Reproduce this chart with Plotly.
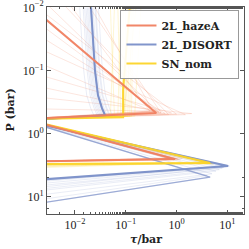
import plotly.graph_objects as go

# ---------------- data ----------------
# mean profiles: pressure (bar) and tau/bar
hazeA_P   = [0.01, 0.47, 0.585, 2.52, 2.75, 20.0]
hazeA_tau = [0.0014, 0.40, 0.001, 0.94, 0.001, 0.001]

disort_P   = [0.01, 0.0332, 0.0989, 0.245, 0.394, 0.508, 0.62, 3.25, 5.55, 20.0]
disort_tau = [0.0207, 0.0226, 0.0248, 0.0284, 0.0341, 0.0391, 0.001, 10.4, 0.001, 0.001]

snnom_P   = [0.01, 0.07, 0.2, 0.547, 0.59, 2.91, 3.04, 20.0]
snnom_tau = [0.12, 0.10, 0.089, 0.089, 0.001, 4.6, 0.001, 0.001]

# deep blue member (second lower line)
disort_deep_P   = [0.01, 0.0332, 0.0989, 0.245, 0.394, 0.508, 0.62, 4.85, 13.7, 20.0]
disort_deep_tau = [0.0207, 0.0226, 0.0248, 0.0284, 0.0341, 0.0391, 0.001, 4.6, 0.001, 0.001]

# ensemble members (faint lines)
oP_top = [0.0001, 0.0003, 0.001, 0.002, 0.004, 0.007, 0.012, 0.02, 0.035, 0.06, 0.1, 0.16, 0.25, 0.4]
oT_pk1 = [0.35, 0.5, 0.3, 0.7, 0.45, 1.0, 0.4, 0.6, 1.5, 0.35, 0.8, 0.5, 2.0, 0.45]
oP_pk1 = [0.45, 0.47, 0.44, 0.50, 0.46, 0.49, 0.43, 0.48, 0.50, 0.45, 0.47, 0.46, 0.48, 0.44]
oT_pk2 = [0.9, 0.8, 1.1, 0.95, 0.7, 1.2, 0.85, 1.0, 0.9, 0.75, 1.05, 0.9, 1.3, 0.8]
oP_pk2 = [2.5, 2.45, 2.55, 2.5, 2.4, 2.6, 2.5, 2.45, 2.55, 2.5, 2.5, 2.6, 2.45, 2.5]

yT_top = [0.05, 0.07, 0.09, 0.11, 0.13, 0.16, 0.2, 0.08, 0.12, 0.06, 0.1, 0.14]
yT_bot = [0.06, 0.08, 0.085, 0.1, 0.12, 0.09, 0.15, 0.07, 0.11, 0.05, 0.095, 0.13]
yT_pk  = [4.0, 5.0, 4.5, 3.5, 5.5, 4.2, 4.8, 3.8, 5.2, 4.4, 4.6, 3.2]
yP_pk  = [2.8, 2.95, 2.9, 2.85, 3.0, 2.9, 2.95, 2.8, 3.0, 2.9, 2.85, 2.9]
yP_ret = [3.0, 3.1, 3.05, 3.2, 3.1, 3.3, 3.0, 3.4, 3.15, 3.05, 3.5, 3.2]

b_scale = [0.6, 0.7, 0.8, 0.9, 1.1, 1.25, 1.4, 0.75, 1.05, 0.95, 1.2, 0.85]
bT_pk   = [10, 9, 8, 6, 4.6, 10.5, 7, 5, 9.5, 11, 8.5, 4.0]
bP_pk   = [3.25, 3.3, 3.5, 3.9, 4.85, 3.2, 3.7, 4.3, 3.3, 3.25, 3.4, 4.6]
bP_ret  = [5.5, 6.0, 7.0, 8.5, 13.7, 5.8, 8.0, 10.0, 6.5, 5.6, 7.5, 12.0]

tick_vals_x = [0.01, 0.1, 1, 10]
tick_text_x = ["10<sup>−2</sup>", "10<sup>−1</sup>", "10<sup>0</sup>", "10<sup>1</sup>"]
tick_vals_y = [0.01, 0.1, 1, 10]
tick_text_y = ["10<sup>−2</sup>", "10<sup>−1</sup>", "10<sup>0</sup>", "10<sup>1</sup>"]

ORANGE = (240, 128, 96)
BLUE = (122, 143, 200)
YELLOW = (252, 212, 40)

def rgba(c, a):
    return f"rgba({c[0]},{c[1]},{c[2]},{a})"

fig = go.Figure()

def faint(x, y, c, a=0.13, w=1.0):
    fig.add_trace(go.Scatter(x=x, y=y, mode="lines", showlegend=False,
                             hoverinfo="skip",
                             line=dict(color=rgba(c, a), width=w)))

# orange members
for i in range(len(oP_top)):
    faint([0.001, oT_pk1[i], 0.001, oT_pk2[i], 0.001],
          [oP_top[i], oP_pk1[i], 0.585, oP_pk2[i], 2.75], ORANGE, 0.2)

# yellow members
for i in range(len(yT_top)):
    faint([yT_top[i], yT_bot[i], 0.001, yT_pk[i], 0.001],
          [0.01, 0.53, 0.59, yP_pk[i], yP_ret[i]], YELLOW, 0.2)

# blue members
for i in range(len(b_scale)):
    tx = [t * b_scale[i] for t in disort_tau[:6]] + [0.001, bT_pk[i], 0.001]
    ty = disort_P[:6] + [0.62, bP_pk[i], bP_ret[i]]
    faint(tx, ty, BLUE, 0.16)

faint(disort_deep_tau, disort_deep_P, BLUE, 0.7, 1.3)

# means
fig.add_trace(go.Scatter(x=disort_tau, y=disort_P, mode="lines", name="<b>2L_DISORT</b>",
                         legendrank=2, line=dict(color=rgba(BLUE, 0.95), width=2)))
fig.add_trace(go.Scatter(x=snnom_tau, y=snnom_P, mode="lines", name="<b>SN_nom</b>",
                         legendrank=3, line=dict(color=rgba(YELLOW, 0.95), width=2)))
fig.add_trace(go.Scatter(x=hazeA_tau, y=hazeA_P, mode="lines", name="<b>2L_hazeA</b>",
                         legendrank=1, line=dict(color=rgba(ORANGE, 0.95), width=2)))

axis_common = dict(
    type="log", showgrid=False, zeroline=False, automargin=False,
    showline=True, linecolor="#555", linewidth=1, mirror="allticks",
    ticks="inside", ticklen=4, tickcolor="#555",
    minor=dict(ticks="inside", ticklen=2, tickcolor="#555", showgrid=False),
    tickfont=dict(family="Liberation Serif", size=12, color="#222"),
    ticklabeloverflow="allow",
)

fig.update_layout(
    width=249, height=249,
    margin=dict(l=47, r=5, t=7, b=35),
    paper_bgcolor="white", plot_bgcolor="white",
    xaxis=dict(range=[-2.55, 1.33], tickvals=tick_vals_x, ticktext=tick_text_x,
               **axis_common),
    yaxis=dict(range=[1.27, -2.005], tickvals=tick_vals_y, ticktext=tick_text_y,
               **axis_common),
    legend=dict(x=0.977, y=0.985, xanchor="right", yanchor="top",
                bgcolor="rgba(255,255,255,0.9)", bordercolor="#999", borderwidth=1,
                font=dict(family="DejaVu Serif", size=11, color="#222"),
                itemwidth=30, tracegroupgap=0),
    showlegend=True,
    annotations=[
        dict(text="<b><i>τ</i>/bar</b>", xref="paper", yref="paper", x=0.5, y=0,
             yshift=-25, xanchor="center", yanchor="middle", showarrow=False,
             font=dict(family="DejaVu Serif", size=11, color="#222")),
        dict(text="<b>P (bar)</b>", xref="paper", yref="paper", x=0, y=0.5,
             xshift=-37, xanchor="center", yanchor="middle", showarrow=False,
             textangle=-90,
             font=dict(family="DejaVu Serif", size=11, color="#222")),
    ],
)

fig.write_html("out.html",
               config={"displayModeBar": False, "staticPlot": True},
               post_script="document.body.style.margin='0';document.body.style.padding='0';")
